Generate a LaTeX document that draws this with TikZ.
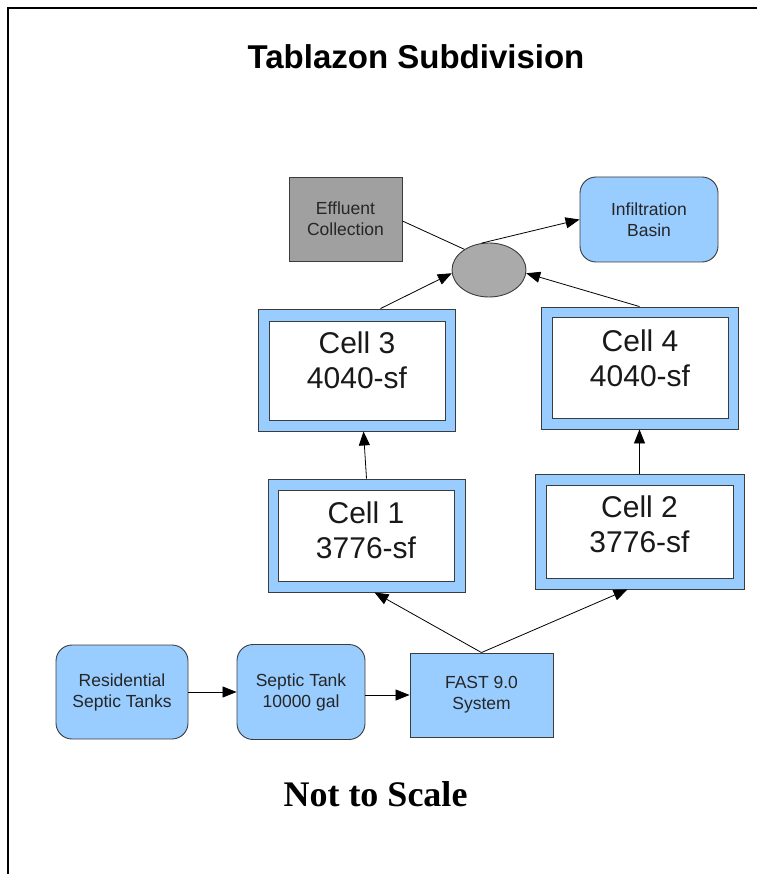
\documentclass[tikz,border=0pt]{standalone}
\usepackage{fontspec}
\setmainfont{Liberation Serif}
\setsansfont{Liberation Sans}
\usetikzlibrary{arrows.meta,shapes.geometric}

\definecolor{boxblue}{RGB}{153,204,255}
\definecolor{boxgray}{RGB}{160,160,160}
\definecolor{ovalgray}{RGB}{170,170,170}
\definecolor{edgegray}{RGB}{60,60,60}

\tikzset{
  every node/.style={font=\sffamily},
  smalltxt/.style={font=\sffamily\fontsize{17.5}{21}\selectfont, align=center, text=black!85},
  roundbox/.style={smalltxt, draw=edgegray, line width=0.9pt, fill=boxblue, rounded corners=16pt, inner sep=0pt},
  squarebox/.style={smalltxt, draw=edgegray, line width=0.9pt, inner sep=0pt},
  celloutbox/.style={draw=edgegray, line width=0.9pt, fill=boxblue, inner sep=0pt},
  cellinbox/.style={draw=edgegray, line width=0.9pt, fill=white, inner sep=0pt},
  celltxt/.style={font=\sffamily\fontsize{30}{35}\selectfont, align=center, text=black!90, inner sep=0pt},
  flow/.style={draw=black, line width=0.8pt, -{Triangle[length=14pt,width=11pt]}},
  plainline/.style={draw=black, line width=0.8pt},
}

\begin{document}
\begin{tikzpicture}[x=1pt,y=-1pt]
  \useasboundingbox (0,0) rectangle (757,874);

  % frame
  \draw[line width=1.6pt] (757,8) -- (8,8) -- (8,874);

  % title
  \node[font=\sffamily\bfseries\fontsize{33}{38}\selectfont] (title) at (416,57) {Tablazon Subdivision};

  % top row
  \node[squarebox, fill=boxgray, minimum width=113pt, minimum height=84pt] (eff) at (345.5,219) {Effluent\\Collection};
  \node[roundbox, minimum width=138pt, minimum height=85pt] (inf) at (649,219.5) {Infiltration\\Basin};
  \node[ellipse, draw=edgegray, line width=0.9pt, fill=ovalgray, minimum width=74pt, minimum height=54pt, inner sep=0pt] (ell) at (489,270) {};

  % cells 3 and 4
  \node[celloutbox, minimum width=197pt, minimum height=122pt] (c3) at (356.5,370) {};
  \node[cellinbox, minimum width=176pt, minimum height=99pt] (c3box) at (357,370.5) {};
  \node[celltxt] (c3txt) at (357,360) {Cell 3\\4040-sf};

  \node[celloutbox, minimum width=197pt, minimum height=122pt] (c4) at (639.5,368) {};
  \node[cellinbox, minimum width=176pt, minimum height=101pt] (c4box) at (640,367.5) {};
  \node[celltxt] (c4txt) at (640,358) {Cell 4\\4040-sf};

  % cells 1 and 2
  \node[celloutbox, minimum width=197pt, minimum height=113pt] (c1) at (366.5,535.5) {};
  \node[cellinbox, minimum width=176pt, minimum height=91pt] (c1box) at (366,535.5) {};
  \node[celltxt] (c1txt) at (366,530) {Cell 1\\3776-sf};

  \node[celloutbox, minimum width=209pt, minimum height=115pt] (c2) at (639.5,531.5) {};
  \node[cellinbox, minimum width=187pt, minimum height=93pt] (c2box) at (639.5,531.5) {};
  \node[celltxt] (c2txt) at (639.5,524) {Cell 2\\3776-sf};

  % bottom row
  \node[roundbox, minimum width=132pt, minimum height=94pt] (res) at (122,692) {Residential\\Septic Tanks};
  \node[roundbox, minimum width=128pt, minimum height=95pt] (sep) at (301,692) {Septic Tank\\10000 gal};
  \node[squarebox, fill=boxblue, minimum width=143pt, minimum height=84pt] (fast) at (481.5,695) {FAST 9.0\\System};

  % connectors
  \draw[flow] (res.east) -- (sep.west);
  \draw[flow] (sep.east |- fast.west) -- (fast.west);
  \draw[flow] (fast.north) -- ([xshift=8pt]c1.south);
  \draw[flow] (fast.north) -- ([xshift=-12pt]c2.south);
  \draw[flow] (c1.north) -- ([xshift=7pt]c3.south);
  \draw[flow] (c2.north) -- (c4.south);
  \draw[flow] ([xshift=24pt]c3.north) -- (ell.185);
  \draw[flow] (c4.north) -- (ell.355);
  \draw[plainline] ([yshift=-2pt]eff.east) -- (ell.140);
  \draw[flow] (ell.105) -- (inf.west);

  % footer
  \node[font=\rmfamily\bfseries\fontsize{36}{40}\selectfont] (scale) at (375.5,794) {Not to Scale};
\end{tikzpicture}
\end{document}
